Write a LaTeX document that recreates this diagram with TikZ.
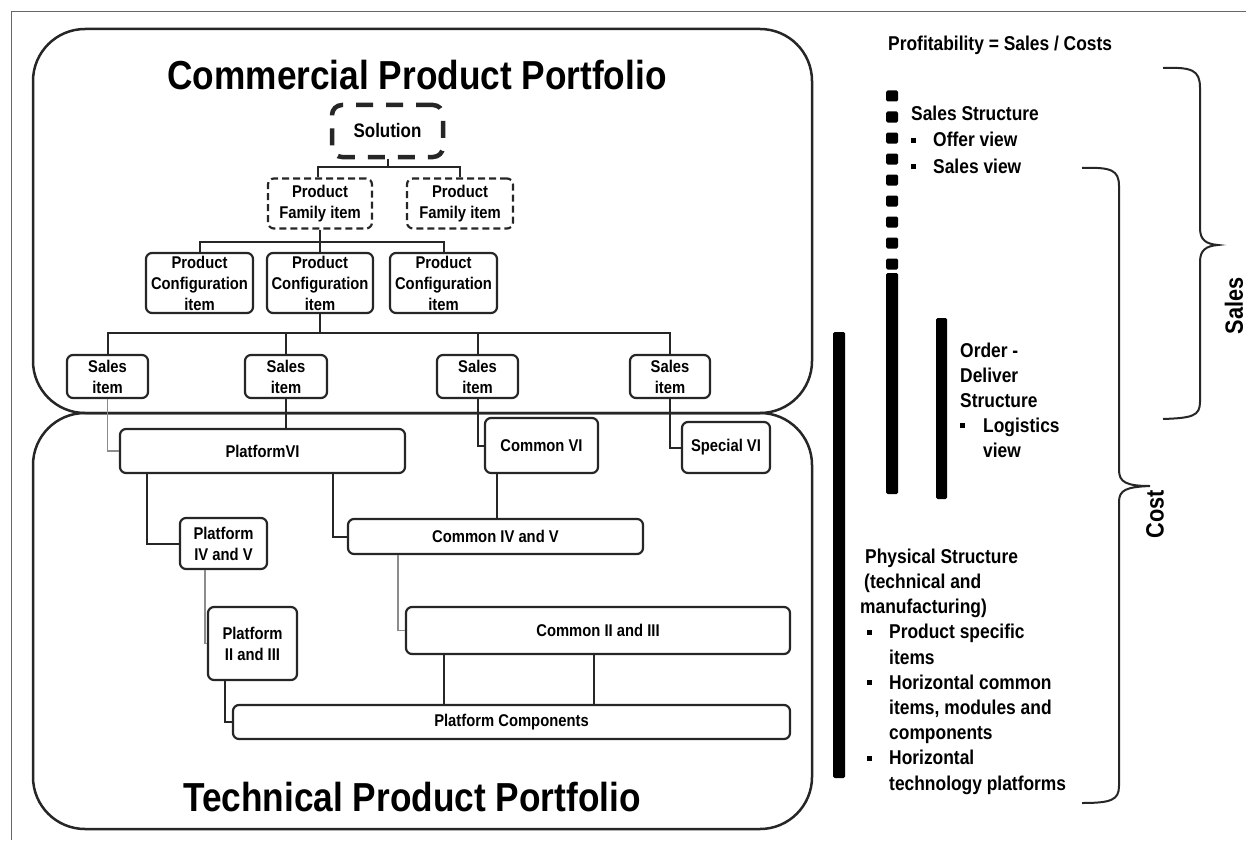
\documentclass[tikz,border=0pt]{standalone}
\usepackage{fontspec}
\newfontfamily\nf[FakeStretch=0.87]{Liberation Sans}
\usetikzlibrary{calc}
\newcommand\bl{\makebox[22pt][l]{\raisebox{4pt}{\rule{5pt}{5pt}}}}
\tikzset{
  box/.style={draw=black!85, line width=2.2pt, rounded corners=6pt, fill=white, align=center, inner sep=0pt,
    font=\nf\bfseries\fontsize{17}{21}\selectfont},
  pfbox/.style={box, dash pattern=on 7pt off 4pt},
  solbox/.style={box, line width=4.5pt, dash pattern=on 17pt off 13pt, rounded corners=10pt,
    font=\nf\bfseries\fontsize{19.5}{23}\selectfont},
  conn/.style={draw=black!85, line width=2pt},
  gconn/.style={draw=black!45, line width=1.4pt},
  portfolio/.style={draw=black!85, line width=2.5pt, rounded corners=52pt},
  title/.style={font=\nf\bfseries\fontsize{40.5}{46}\selectfont, inner sep=0pt},
  rtext/.style={font=\nf\bfseries\fontsize{20}{25}\selectfont, align=left, inner sep=0pt},
  brace/.style={draw=black!85, line width=2pt},
  vlabel/.style={font=\nf\bfseries\fontsize{25}{30}\selectfont, rotate=90, inner sep=0pt},
}
\begin{document}
\begin{tikzpicture}[x=1pt,y=-1pt]
\useasboundingbox (0,0) rectangle (1246,840);
\draw[black!60, line width=1pt] (11,840) -- (11,12) -- (1246,12);

% portfolios
\draw[portfolio] (33,29) rectangle (812,413);
\draw[portfolio] (33,413) rectangle (812,829);
\node[title] (ctitle) at (417,75) {Commercial Product Portfolio};
\node[title] (ttitle) at (412,797) {Technical Product Portfolio};

% commercial nodes
\node[solbox, minimum width=111pt, minimum height=52pt] (sol) at (387.5,131) {Solution};
\node[pfbox, minimum width=104pt, minimum height=50pt] (pf1) at (320,203.5) {Product\\Family item};
\node[pfbox, minimum width=106pt, minimum height=50pt] (pf2) at (460,203.5) {Product\\Family item};
\node[box, minimum width=107pt, minimum height=60pt] (pc1) at (199.5,283) {Product\\Configuration\\item};
\node[box, minimum width=106pt, minimum height=60pt] (pc2) at (320,283) {Product\\Configuration\\item};
\node[box, minimum width=107pt, minimum height=60pt] (pc3) at (443.5,283) {Product\\Configuration\\item};
\node[box, minimum width=81pt, minimum height=43pt] (s1) at (107.5,376.5) {Sales\\item};
\node[box, minimum width=82pt, minimum height=43pt] (s2) at (286,376.5) {Sales\\item};
\node[box, minimum width=81pt, minimum height=43pt] (s3) at (477.5,376.5) {Sales\\item};
\node[box, minimum width=80pt, minimum height=43pt] (s4) at (670,376.5) {Sales\\item};

% technical nodes
\node[box, minimum width=285pt, minimum height=44pt] (pvi) at (262.5,451) {PlatformVI};
\node[box, minimum width=113pt, minimum height=55pt] (cvi) at (541.5,445.5) {Common VI};
\node[box, minimum width=88pt, minimum height=51pt] (svi) at (726,447.5) {Special VI};
\node[box, minimum width=87pt, minimum height=51pt] (piv) at (223.5,543.5) {Platform\\IV and V};
\node[box, minimum width=295pt, minimum height=35pt] (civ) at (495.5,536.5) {Common IV and V};
\node[box, minimum width=89pt, minimum height=73pt] (pii) at (252.5,643.5) {Platform\\II and III};
\node[box, minimum width=384pt, minimum height=47pt] (cii) at (598,630.5) {Common II and III};
\node[box, minimum width=557pt, minimum height=34pt] (pcomp) at (511.5,722) {Platform Components};

% commercial connectors
\coordinate (j1) at (387.5,167);
\coordinate (j2) at (320,242);
\coordinate (j3) at (320,333);
\draw[conn] (sol.south) -- (j1);
\draw[conn] ([xshift=-2pt]pf1.north) |- (j1) -| (pf2.north);
\draw[conn] (pf1.south) -- (j2);
\draw[conn] (pc1.north) |- (j2) -| (pc3.north);
\draw[conn] (pc2.north) -- (pc2.north |- j2);
\draw[conn] (pc2.south) -- (j3);
\draw[conn] (s1.north) |- (j3) -| (s4.north);
\draw[conn] (s2.north) -- (s2.north |- j3);
\draw[conn] (s3.north) -- (s3.north |- j3);

% sales to technical
\draw[gconn] (s1.south) |- (pvi.west);
\draw[conn] (s2.south) -- (s2.south |- pvi.north);
\draw[conn] (s3.south) |- (cvi.west);
\draw[conn] (s4.south) |- (svi.west);

% technical connectors
\draw[conn] ([xshift=-115.5pt]pvi.south) |- (piv.west);
\draw[conn] ([xshift=70.5pt]pvi.south) |- (civ.west);
\draw[conn] ([xshift=-44.5pt]cvi.south) -- ([xshift=-44.5pt]cvi.south |- civ.north);
\draw[gconn] ([xshift=-18.5pt]piv.south) |- (pii.west);
\draw[gconn] ([xshift=-97.5pt]civ.south) |- (cii.west);
\draw[conn] ([xshift=-27.5pt]pii.south) |- (pcomp.west);
\draw[conn] ([xshift=-154pt]cii.south) -- ([xshift=-154pt]cii.south |- pcomp.north);
\draw[conn] ([xshift=-4pt]cii.south) -- ([xshift=-4pt]cii.south |- pcomp.north);

% right side bars
\foreach \k in {0,...,8} {
  \fill[black, rounded corners=1.5pt] (886,{90.5+21*\k}) rectangle (898,{101.5+21*\k});
}
\fill[black, rounded corners=1.5pt] (886,273) rectangle (898,494);
\fill[black, rounded corners=1.5pt] (936,318) rectangle (947,499);
\fill[black, rounded corners=1.5pt] (833,332) rectangle (845,778);

% right texts
\node[rtext, anchor=north west] (prof) at (888,35.5) {Profitability = Sales / Costs};
\node[rtext, anchor=north west, font=\nf\bfseries\fontsize{20}{26.5}\selectfont] (salesstr) at (911,105.5)
  {Sales Structure\\\bl Offer view\\\bl Sales view};
\node[rtext, anchor=north west] (order) at (960,342.5)
  {Order -\\Deliver\\Structure\\\makebox[23pt][l]{\raisebox{4pt}{\rule{5pt}{5pt}}}Logistics\\\hspace*{23pt}view};
\node[rtext, anchor=north west, font=\nf\bfseries\fontsize{20}{25.2}\selectfont] (phys) at (860,548.5)
  {\hspace*{5pt}Physical Structure\\\hspace*{4pt}(technical and\\manufacturing)\\
   \hspace*{7pt}\bl Product specific\\\hspace*{29pt}items\\
   \hspace*{7pt}\bl Horizontal common\\\hspace*{29pt}items, modules and\\\hspace*{29pt}components\\
   \hspace*{7pt}\bl Horizontal\\\hspace*{29pt}technology platforms};

% braces
\draw[brace] (1163,68) .. controls (1192,67) and (1200,70) .. (1200,88) -- (1200,228)
  .. controls (1200,240) and (1206,244) .. (1218,245)
  .. controls (1206,246) and (1200,250) .. (1200,262) -- (1200,402)
  .. controls (1200,416) and (1192,418) .. (1163,419);
\draw[brace] (1082,168) .. controls (1111,167) and (1119,170) .. (1119,186) -- (1119,470)
  .. controls (1119,482) and (1126,486) .. (1150,486)
  .. controls (1126,487) and (1119,490) .. (1119,502) -- (1119,786)
  .. controls (1119,800) and (1111,803) .. (1082,803);
\node[vlabel] (saleslbl) at (1234,306) {Sales};
\node[vlabel] (costlbl) at (1155,514) {Cost};
\end{tikzpicture}
\end{document}
